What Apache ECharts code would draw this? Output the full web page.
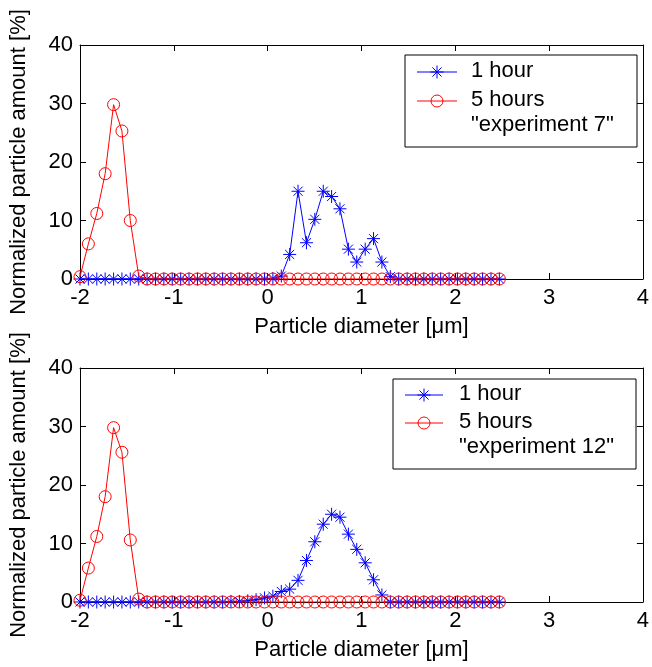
<!DOCTYPE html>
<html><head><meta charset="utf-8">
<script src="https://cdn.jsdelivr.net/npm/echarts@6/dist/echarts.min.js"></script>
<style>html,body{margin:0;padding:0;background:#fff}#c{width:652px;height:667px}</style>
</head><body><div id="c"></div>
<script>
// Particle diameter positions (log scale units)
const diam = [-2.000,-1.911,-1.821,-1.732,-1.642,-1.553,-1.464,-1.374,-1.285,-1.195,
  -1.106,-1.017,-0.927,-0.838,-0.748,-0.659,-0.570,-0.480,-0.391,-0.301,
  -0.212,-0.123,-0.033,0.056,0.146,0.235,0.324,0.414,0.503,0.593,
  0.682,0.771,0.861,0.950,1.040,1.129,1.218,1.308,1.397,1.487,
  1.576,1.665,1.755,1.844,1.934,2.023,2.112,2.202,2.291,2.381,2.470];

// Experiment 7
const exp7_1h = [0,0,0,0,0,0,0,0,0,0, 0,0,0,0,0,0,0,0,0,0, 0,0,0,0.1,0.5,4.2,15.0,6.2,10.2,15.0,
  14.1,12.0,5.1,2.9,5.1,6.9,2.9,0.4,0,0, 0,0,0,0,0,0,0,0,0,0,0];
const exp7_5h = [0.4,6.0,11.2,18.0,29.8,25.3,10.0,0.5,0,0, 0,0,0,0,0,0,0,0,0,0, 0,0,0,0,0,0,0,0,0,0,
  0,0,0,0,0,0,0,0,0,0, 0,0,0,0,0,0,0,0,0,0,0];
// Experiment 12
const exp12_1h = [0,0,0,0,0,0,0,0,0,0, 0,0,0,0,0,0,0,0,0.1,0.1, 0.2,0.4,0.7,1.0,1.8,2.2,3.7,7.1,10.3,13.3,
  15.0,14.5,11.6,9.0,6.7,3.8,1.2,0,0,0, 0,0,0,0,0,0,0,0,0,0,0];
const exp12_5h = [0.3,5.8,11.2,18.0,29.8,25.6,10.6,0.5,0,0, 0,0,0,0,0,0,0,0,0,0, 0,0,0,0,0,0,0,0,0,0,
  0,0,0,0,0,0,0,0,0,0, 0,0,0,0,0,0,0,0,0,0,0];

const xTicks = [-2,-1,0,1,2,3,4];
const yTicks = [0,10,20,30,40];
const legendNames = ['1 hour','5 hours'];
const expLabels = ['"experiment 7"','"experiment 12"'];

const FONT = 'Liberation Sans, Arial, sans-serif';
const FS = 22;
const chart = echarts.init(document.getElementById('c'), null, {renderer:'canvas'});

const grids = [
  {left:77, right:4, top:45, height:234},
  {left:77, right:4, top:368, height:234}
];
const starPath = 'path://M0,-10L0,10M-10,0L10,0M-7,-7L7,7M-7,7L7,-7';

function xAx(gi, main){
  return {type:'value', gridIndex:gi, min:-2, max:4, interval:1, position: main?'bottom':'top',
    name: main ? 'Particle diameter [\u03bcm]' : '', nameLocation:'middle', nameGap:37,
    nameTextStyle:{fontFamily:FONT,fontSize:FS,color:'#000'},
    axisLine:{show:true,onZero:false,lineStyle:{color:'#000',width:1}},
    axisTick:{show:true,inside:true,length:6,lineStyle:{color:'#000'}},
    axisLabel:{show:main,fontFamily:FONT,fontSize:FS,color:'#000',margin:8},
    splitLine:{show:false}};
}
function yAx(gi, main){
  return {type:'value', gridIndex:gi, min:0, max:40, interval:10, position: main?'left':'right',
    name: main ? 'Normalized particle amount [%]' : '', nameLocation:'middle', nameGap:50,
    nameTextStyle:{fontFamily:FONT,fontSize:FS,color:'#000'},
    axisLine:{show:true,onZero:false,lineStyle:{color:'#000',width:1}},
    axisTick:{show:true,inside:true,length:6,lineStyle:{color:'#000'}},
    axisLabel:{show:main,fontFamily:FONT,fontSize:FS,color:'#000',margin:7},
    splitLine:{show:false}};
}
function pts(arr){ return diam.map((x,i)=>[x,arr[i]]); }
function blue(gi,arr){
  return {type:'line', xAxisIndex:gi*2, yAxisIndex:gi*2, data:pts(arr), showAllSymbol:true,
    symbol:starPath, symbolSize:13, lineStyle:{color:'#0000ff',width:1},
    itemStyle:{color:'none',borderColor:'#0000ff',borderWidth:1}, z:2, silent:true};
}
function red(gi,arr){
  return {type:'line', xAxisIndex:gi*2, yAxisIndex:gi*2, data:pts(arr), showAllSymbol:true,
    symbol:'circle', symbolSize:12, lineStyle:{color:'#ff0000',width:1},
    itemStyle:{color:'none',borderColor:'#ff0000',borderWidth:1}, z:3, silent:true};
}

function legendBox(box){
  const els = [];
  els.push({type:'rect', shape:{x:box.x,y:box.y,width:box.w,height:box.h},
    style:{fill:'#fff',stroke:'#000',lineWidth:1}, z:10});
  els.push({type:'line', shape:{x1:box.lx1,y1:box.r1,x2:box.lx2,y2:box.r1}, style:{stroke:'#0000ff',lineWidth:1}, z:11});
  const cx = (box.lx1+box.lx2)/2;
  const s=6.5, d=4.6;
  [[0,-s,0,s],[-s,0,s,0],[-d,-d,d,d],[-d,d,d,-d]].forEach(a=>{
    els.push({type:'line', shape:{x1:cx+a[0],y1:box.r1+a[1],x2:cx+a[2],y2:box.r1+a[3]}, style:{stroke:'#0000ff',lineWidth:1}, z:12});
  });
  els.push({type:'text', left:box.tx, top:box.r1-12, style:{text:legendNames[0],font:FS+'px '+FONT,fill:'#000'}, z:12});
  els.push({type:'line', shape:{x1:box.lx1,y1:box.r2,x2:box.lx2,y2:box.r2}, style:{stroke:'#ff0000',lineWidth:1}, z:11});
  els.push({type:'circle', shape:{cx:cx,cy:box.r2,r:6}, style:{fill:'none',stroke:'#ff0000',lineWidth:1}, z:12});
  els.push({type:'text', left:box.tx, top:box.r2-12, style:{text:legendNames[1],font:FS+'px '+FONT,fill:'#000'}, z:12});
  els.push({type:'text', left:box.tx, top:box.r3-12, style:{text:box.label,font:FS+'px '+FONT,fill:'#000'}, z:12});
  return els;
}

const graphic = [].concat(
  legendBox({x:405,y:55,w:232,h:92,lx1:417,lx2:457,tx:471,r1:72,r2:101,r3:126,label:expLabels[0]}),
  legendBox({x:393,y:379,w:243,h:90,lx1:405,lx2:443,tx:459,r1:395,r2:423,r3:448,label:expLabels[1]})
);

chart.setOption({
  animation:false,
  backgroundColor:'#fff',
  grid: grids,
  xAxis:[xAx(0,true), xAx(0,false), xAx(1,true), xAx(1,false)],
  yAxis:[yAx(0,true), yAx(0,false), yAx(1,true), yAx(1,false)],
  series:[blue(0,exp7_1h), red(0,exp7_5h), blue(1,exp12_1h), red(1,exp12_5h)],
  graphic: graphic
});
</script></body></html>
